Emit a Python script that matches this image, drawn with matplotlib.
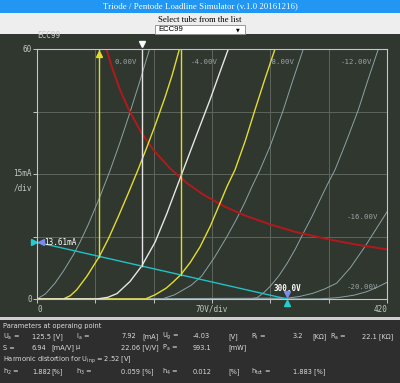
import matplotlib
matplotlib.use("Agg")
import matplotlib.pyplot as plt
from matplotlib.patches import Rectangle

# plate curves: (plate voltage [V], plate current [mA])
g0_v = [0, 10, 21.6, 32, 43.6, 52, 61.6, 75, 87.6, 100, 111.6, 123, 134.8]
g0_i = [0, 1.2, 3.8, 6.8, 10.6, 13.8, 17.9, 24.3, 30.8, 37.8, 44.8, 52.0, 59.8]
g8_v = [0, 150, 165, 172, 185, 197.6, 213, 228, 239, 249, 258, 267.6, 279.6, 295.6, 307, 319.6]
g8_i = [0, 0, 1.0, 1.8, 3.3, 5.5, 10.0, 15.0, 19.0, 23.0, 27.0, 31.0, 36.6, 45.4, 52.5, 60]
g12_v = [0, 255, 264, 272, 279.6, 290, 300, 310, 319.6, 330, 339.6, 348, 357.6, 370, 385.6, 397, 409.6]
g12_i = [0, 0, 0.3, 1.5, 3.0, 5.5, 8.5, 12.0, 15.8, 19.8, 23.8, 27.3, 31.0, 37.2, 45.4, 52.5, 60]
g16_v = [0, 300, 315, 331.6, 345, 359.6, 376, 393.6, 406, 420]
g16_i = [0, 0.2, 0.6, 1.4, 2.4, 3.8, 7.5, 12.6, 16.5, 20.9]
g20_v = [0, 340, 360, 380, 395.6, 408, 420]
g20_i = [0, 0.05, 0.3, 0.9, 1.75, 2.8, 4.0]

grid_labels = ["0.00V", "-4.00V", "-8.00V", "-12.00V", "-16.00V", "-20.00V"]

# operating point curve (white) and swing curves (yellow)
op_v = [0, 71.6, 85, 96, 111.6, 125.6, 141.6, 155.6, 165, 175.6, 190, 207.6, 218, 229.6]
op_i = [0, 0, 0.4, 1.3, 4.2, 7.9, 13.6, 20.4, 25.4, 31.0, 38.6, 47.8, 53.6, 60]
lo_v = [0, 31.6, 40, 47.6, 60, 74.8, 86, 97.6, 110, 121.6, 132, 141.6, 153.6, 162, 170.8]
lo_i = [0, 0, 0.8, 2.2, 5.5, 10.2, 14.6, 19.8, 25.6, 31.2, 36.5, 41.6, 48.4, 53.6, 59.9]
hi_v = [0, 130, 141.6, 155, 163, 172.4, 184, 195.6, 208, 219.6, 228, 237.6, 250, 261.6, 273, 285.6]
hi_i = [0, 0, 1.0, 2.6, 4.0, 5.8, 8.8, 12.5, 17.5, 23.0, 27.0, 31.0, 38.0, 45.4, 52.5, 60]

# max dissipation curve (5 W)
pa_v = [83.6, 90, 100, 110, 125, 140, 160, 180, 200, 225, 250, 280, 310, 350, 385, 420]
pa_i = [59.8, 55.6, 50, 45.5, 40, 35.7, 31.3, 27.8, 25, 22.2, 20, 17.9, 16.1, 14.3, 13.0, 11.9]

# load line end points
ll_v = [0, 300]
ll_i = [13.61, 0]

ua_swing = [74.8, 125.6, 172.4]   # yellow / white / yellow verticals
ia_swing = [10.2, 7.92, 5.79]

BG = "#2f372f"
GRID = "#5d655c"
AX = "#c4c8c4"
GRAY = "#8ea2a6"
YEL = "#e4dc2c"
MONO = "DejaVu Sans Mono"

fig = plt.figure(figsize=(4, 3.83), dpi=100)
W, H = 400.0, 383.0

def box(x, y, w, h, color, **kw):
    fig.patches.append(Rectangle((x / W, 1 - (y + h) / H), w / W, h / H,
                                 transform=fig.transFigure, facecolor=color,
                                 edgecolor=kw.get("ec", "none"), lw=kw.get("lw", 0),
                                 zorder=-10))

def ftext(x, y, s, **kw):
    fig.text(x / W, 1 - y / H, s, **kw)

# page pieces
box(0, 0, 400, 13, "#2196f3")
box(0, 13, 400, 21, "#eeeeee")
box(0, 34, 400, 283, BG)
box(0, 317, 400, 2.5, "#cfcfcf")
box(0, 319.5, 400, 64, "#2e2e2e")
box(155, 25, 90, 8.5, "white", ec="#8a8a8a", lw=0.6)

ftext(200, 6.5, "Triode / Pentode Loadline Simulator (v.1.0 20161216)", color="white",
      family="Liberation Serif", fontsize=6.4, ha="center", va="center")
ftext(200, 19.5, "Select tube from the list", color="black",
      family="Liberation Serif", fontsize=6.2, ha="center", va="center")
ftext(158, 29.5, "ECC99", color="black", family="Liberation Sans", fontsize=5.6, va="center")
ftext(238, 29.5, "▼", color="black", family="DejaVu Sans", fontsize=3.5, ha="center", va="center")

ax = fig.add_axes([37 / W, 1 - 299 / H, 350 / W, 250 / H])
ax.set_facecolor(BG)
ax.set_xlim(0, 420)
ax.set_ylim(0, 60)
ax.set_xticks(range(0, 421, 70))
ax.set_yticks(range(0, 61, 15))
ax.set_xticklabels([])
ax.set_yticklabels([])
ax.tick_params(colors=AX, length=3, width=0.7)
ax.grid(True, color=GRID, lw=0.7)
ax.set_axisbelow(True)
for s in ax.spines.values():
    s.set_color(AX)
    s.set_linewidth(0.8)

for v, i in [(g0_v, g0_i), (g8_v, g8_i), (g12_v, g12_i), (g16_v, g16_i), (g20_v, g20_i)]:
    ax.plot(v, i, color=GRAY, lw=0.7)

ax.plot(pa_v, pa_i, color="#b3191b", lw=1.4)
ax.plot(lo_v, lo_i, color=YEL, lw=1.0)
ax.plot(hi_v, hi_i, color=YEL, lw=1.0)
ax.plot(op_v, op_i, color="#e6e6e6", lw=1.0)
ax.plot(ll_v, ll_i, color="#1fc2c6", lw=1.0)

for u, ia, c in zip(ua_swing, ia_swing, [YEL, "#e6e6e6", YEL]):
    ax.plot([u, u], [ia, 60], color=c, lw=1.0)

# markers
ax.plot([ua_swing[1]], [61.2], marker="v", color="white", ms=4, clip_on=False)
ax.plot([ua_swing[0]], [58.9], marker="^", color=YEL, ms=4.5, clip_on=False)
ax.plot([-4], [ll_i[0]], marker=">", color="#20d0d0", ms=4, clip_on=False)
ax.plot([5], [ll_i[0]], marker="<", color="#7a8cf0", ms=4, clip_on=False)
ax.plot([ll_v[1]], [1.2], marker="v", color="#7a8cf0", ms=4, clip_on=False)
ax.plot([ll_v[1]], [-1.0], marker="^", color="#20d0d0", ms=4, clip_on=False)
ax.text(9, ll_i[0], "13.61mA", color="white", family=MONO, fontsize=5.5, va="center")
ax.text(ll_v[1], 2.6, "300.0V", color="white", family=MONO, fontsize=5.5,
        ha="center", va="center", fontweight="bold")

# curve labels
lab_pos = [(106.8, 56.9), (200.4, 56.9), (292.8, 56.9), (382.8, 56.9), (390, 19.6), (390, 2.9)]
for s, (x, y) in zip(grid_labels, lab_pos):
    ax.text(x, y, s, color="#9aa4a6", family=MONO, fontsize=5.3, ha="center", va="center")

# axis texts
ax.text(-6, 60, "60", color=AX, family=MONO, fontsize=5.5, ha="right", va="center")
ax.text(-6, 30, "15mA", color=AX, family=MONO, fontsize=5.5, ha="right", va="center")
ax.text(-6, 26.6, "/div", color=AX, family=MONO, fontsize=5.5, ha="right", va="center")
ax.text(-6, 0, "0", color=AX, family=MONO, fontsize=5.5, ha="right", va="center")
ax.text(0, -2.4, "0", color=AX, family=MONO, fontsize=5.5, ha="left", va="center")
ax.text(210, -2.4, "70V/div", color=AX, family=MONO, fontsize=5.5, ha="center", va="center")
ax.text(420, -2.4, "420", color=AX, family=MONO, fontsize=5.5, ha="right", va="center")
ax.text(0, 63.2, "ECC99", color=AX, family=MONO, fontsize=5.5, ha="left", va="center")

# info panel
TC = "#dcdcdc"
fs = 4.8
def info(x, y, s):
    ftext(x, y, s, color=TC, family="DejaVu Sans", fontsize=fs, va="center")

info(3, 326, "Parameters at operaing point")
rows = [
    (336.5, [(3, r"U$_\mathregular{a}$ ="), (32, "125.5 [V]"), (76, r"I$_\mathregular{a}$ ="), (121, "7.92"),
             (142, "[mA]"), (162, r"U$_\mathregular{g}$ ="), (193, "-4.03"), (228, "[V]"),
             (251, r"R$_\mathregular{i}$ ="), (293, "3.2"), (312, "[KΩ]"), (330, r"R$_\mathregular{a}$ ="),
             (362, "22.1 [KΩ]")]),
    (347.5, [(3, "S ="), (32, "6.94"), (51, "[mA/V]"), (76, "μ"), (121, "22.06 [V/V]"),
             (162, r"P$_\mathregular{a}$ ="), (193, "993.1"), (228, "[mW]")]),
    (371.5, [(3, r"h$_\mathregular{2}$ ="), (32, "1.882"), (51, "[%]"), (76, r"h$_\mathregular{3}$ ="),
             (121, "0.059 [%]"), (162, r"h$_\mathregular{4}$ ="), (193, "0.012"), (228, "[%]"),
             (251, r"h$_\mathregular{tot}$ ="), (293, "1.883 [%]")]),
]
for y, items in rows:
    for x, s in items:
        info(x, y, s)
info(3, 360, r"Harmonic distortion for U$_\mathregular{inp}$ = 2.52 [V]")

fig.savefig("out.png", dpi=100, facecolor="white")
